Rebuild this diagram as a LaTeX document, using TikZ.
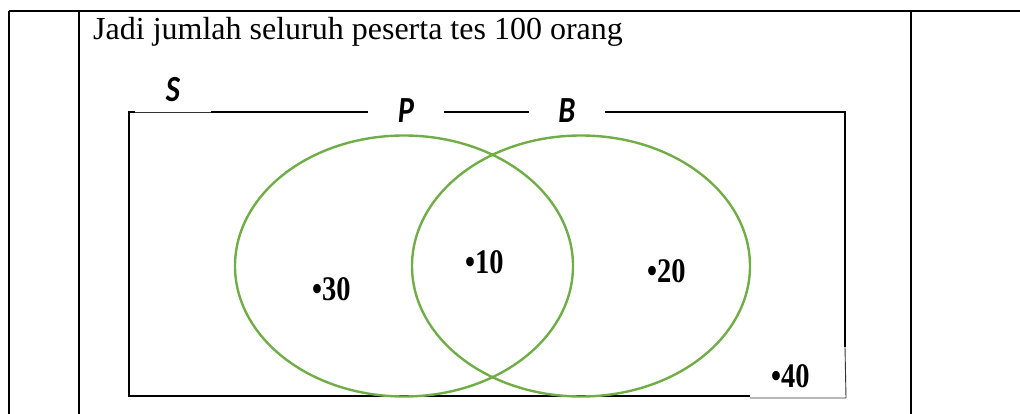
\documentclass[tikz,border=0pt]{standalone}
\usepackage{fontspec}
\setmainfont{Liberation Serif}
\newfontfamily\labelfont{Carlito}
\usetikzlibrary{positioning, shapes.geometric}
\definecolor{vgreen}{RGB}{112,173,71}
\newcommand{\tall}[1]{\scalebox{0.95}[1.15]{#1}}
\tikzset{
  tableline/.style={line width=2.6pt},
  frameline/.style={line width=2pt},
  thinline/.style={line width=0.9pt, black!80},
  setring/.style={ellipse, draw=vgreen, line width=2.4pt, inner sep=0pt},
  setname/.style={font=\labelfont\bfseries\itshape\fontsize{32}{32}\selectfont, anchor=base, inner sep=0pt},
  countlabel/.style={font=\bfseries\fontsize{30}{30}\selectfont, anchor=base west, inner sep=0pt}
}

\begin{document}
\begin{tikzpicture}[x=1pt, y=-1pt]
  \useasboundingbox (0,0) rectangle (1020,414);
  % table cell
  \draw[tableline] (9,11) -- (1020,11);
  \foreach \x in {9,79,911}
    \draw[tableline] (\x,11) -- (\x,414);
  \node[anchor=base west, inner sep=0pt, font=\fontsize{32}{33}\selectfont] (title) at (93,40)
    {Jadi jumlah seluruh peserta tes 100 orang};

  % universe S
  \coordinate (s1) at (129,112);
  \coordinate (s2) at (845,112);
  \coordinate (s3) at (845,347);
  \coordinate (s4) at (750,396);
  \coordinate (s5) at (129,396);
  \draw[frameline] (s4) -- (s5) -- (s1) -- (135,112);
  \draw[thinline] (135,112) -- (211,112);
  \draw[frameline] (211,112) -- (368,112);
  \draw[frameline] (444,112) -- (529,112);
  \draw[frameline] (605,112) -- (s2) -- (s3);
  \draw[thinline] (s3) -- (846,398) -- (750,398);

  % sets P and B
  \node[setring, minimum width=338, minimum height=261] (P) at (404,266) {};
  \node[setring, minimum width=338, minimum height=261] (B) at (581,266) {};

  \node[setname] (nameS) at (173,102) {\tall{S}};
  \node[setname] (nameP) at (406,123) {\tall{P}};
  \node[setname] (nameB) at (567,123) {\tall{B}};

  \node[countlabel] (onlyP) at (312,300) {\tall{•30}};
  \node[countlabel] (both)  at (465,273) {\tall{•10}};
  \node[countlabel] (onlyB) at (647,282) {\tall{•20}};
  \node[countlabel] (none)  at (771,387) {\tall{•40}};
\end{tikzpicture}
\end{document}
